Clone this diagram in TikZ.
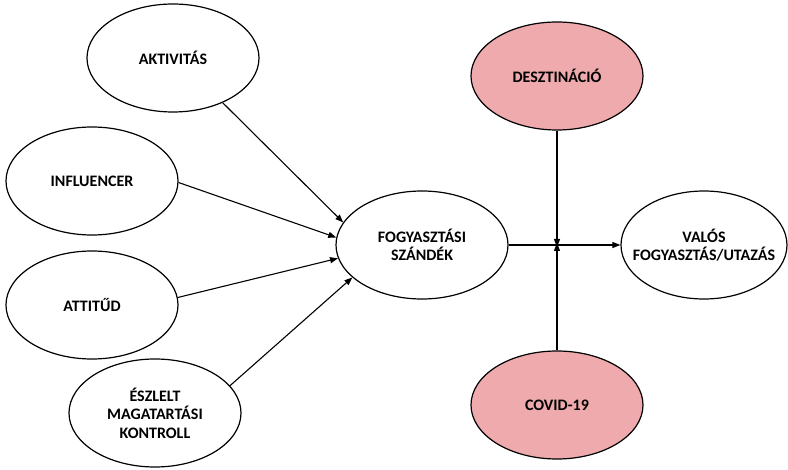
\documentclass[tikz,border=0pt]{standalone}
\usepackage{fontspec}
\setmainfont{Carlito}
\usetikzlibrary{shapes.geometric,arrows.meta}
\definecolor{rozsaszin}{RGB}{238,170,173}

\begin{document}
\begin{tikzpicture}[x=1pt,y=-1pt,
        elip/.style={ellipse,draw,line width=1.2pt,minimum width=172pt,minimum height=108pt,
          inner sep=0pt,align=center,font=\fontsize{16}{18.5}\selectfont\bfseries},
        kiemelt/.style={elip,fill=rozsaszin},
        nyil/.style={-{Triangle[length=8pt,width=6pt]},line width=1.1pt}]
        \useasboundingbox (0,0) rectangle (788,470);
        \node[elip] (aktiv) at (173,58) {AKTIVIT\'AS};
        \node[elip] (infl) at (92,181) {INFLUENCER};
        \node[elip] (att) at (92,305) {ATTIT\H{U}D};
        \node[elip] (eszl) at (155,413) {\'ESZLELT\\MAGATART\'ASI\\KONTROLL};
        \node[elip] (fogy) at (422,245) {FOGYASZT\'ASI\\SZ\'AND\'EK};
        \node[kiemelt] (dest) at (557,76) {DESZTIN\'ACI\'O};
        \node[kiemelt] (covid) at (557,405) {COVID-19};
        \node[elip,minimum width=166pt,inner xsep=-14pt] (valos) at (704,245) {VAL\'OS\\FOGYASZT\'AS/UTAZ\'AS};
        \coordinate (csomo) at (557,245);
        % bemenetek
        \draw[nyil] (aktiv.-42) -- (fogy.164);
        \draw[nyil] (infl.-1) -- (fogy.175);
        \draw[nyil] (att.5) -- (fogy.189);
        \draw[nyil] (eszl.20) -- (fogy.205);
        % kimenet
        \draw[nyil] (fogy) -- (valos);
        \draw[nyil] (dest) -- ([yshift=-2pt]csomo);
        \draw[nyil] (covid) -- ([yshift=2pt]csomo);
\end{tikzpicture}
\end{document}
